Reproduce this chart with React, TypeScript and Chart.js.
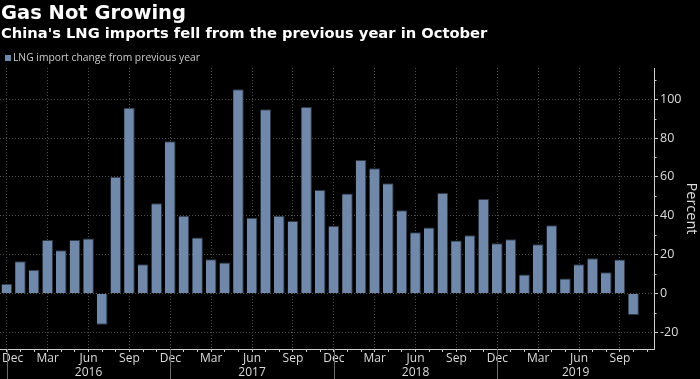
import React, { useEffect, useRef } from 'react';
import { Chart, registerables } from 'chart.js';

Chart.register(...registerables);

const categories = [
  'Dec 2015',
  'Jan 2016', 'Feb 2016', 'Mar 2016', 'Apr 2016', 'May 2016', 'Jun 2016',
  'Jul 2016', 'Aug 2016', 'Sep 2016', 'Oct 2016', 'Nov 2016', 'Dec 2016',
  'Jan 2017', 'Feb 2017', 'Mar 2017', 'Apr 2017', 'May 2017', 'Jun 2017',
  'Jul 2017', 'Aug 2017', 'Sep 2017', 'Oct 2017', 'Nov 2017', 'Dec 2017',
  'Jan 2018', 'Feb 2018', 'Mar 2018', 'Apr 2018', 'May 2018', 'Jun 2018',
  'Jul 2018', 'Aug 2018', 'Sep 2018', 'Oct 2018', 'Nov 2018', 'Dec 2018',
  'Jan 2019', 'Feb 2019', 'Mar 2019', 'Apr 2019', 'May 2019', 'Jun 2019',
  'Jul 2019', 'Aug 2019', 'Sep 2019', 'Oct 2019', 'Nov 2019',
];

const lngChange: (number | null)[] = [
  5.0,
  16.6, 12.3, 27.5, 22.3, 27.5, 28.3,
  -16.0, 60.1, 95.5, 15.1, 46.5, 78.3,
  40.0, 28.9, 17.7, 16.0, 105.1, 39.0,
  94.8, 40.0, 37.3, 95.9, 53.2, 34.9,
  51.5, 68.7, 64.4, 56.7, 42.9, 31.6,
  34.0, 51.7, 27.3, 30.0, 48.6, 25.9,
  28.0, 9.8, 25.4, 35.2, 7.7, 15.1,
  18.2, 11.0, 17.5, -11.0, null,
];

const monthTickLabels = ['Dec', 'Mar', 'Jun', 'Sep'];
const yearLabels = ['2016', '2017', '2018', '2019'];
const yTickValues = [-20, -10, 0, 10, 20, 30, 40, 50, 60, 70, 80, 90, 100, 110];

const titleText = 'Gas Not Growing';
const subtitleText = "China's LNG imports fell from the previous year in October";
const seriesLabel = 'LNG import change from previous year';
const axisTitle = 'Percent';

const BAR_COLOR = '#7089ab';
const BAR_EDGE = '#2f3a49';
const GRID = '#505050';
const AXIS = '#cfcfcf';
const TEXT = '#dcdcdc';

const monthOf = (i: number) => categories[i].split(' ')[0];

const decorPlugin = {
  id: 'decor',
  afterDraw(chart: any) {
    const ctx = chart.ctx as CanvasRenderingContext2D;
    const xs = chart.scales.x;
    const ys = chart.scales.y;
    const area = chart.chartArea;
    ctx.save();

    // Title and subtitle
    ctx.textAlign = 'left';
    ctx.textBaseline = 'alphabetic';
    ctx.fillStyle = '#ffffff';
    ctx.font = 'bold 19.5px "DejaVu Sans"';
    ctx.fillText(titleText, 1, 18.5);
    ctx.font = 'bold 14.7px "DejaVu Sans"';
    ctx.fillText(subtitleText, 1, 38);

    // Legend
    const ds = chart.data.datasets[0];
    ctx.fillStyle = ds.backgroundColor;
    ctx.fillRect(5, 55, 6, 6);
    ctx.fillStyle = '#cccccc';
    ctx.font = '10.3px "Open Sans"';
    ctx.fillText(ds.label, 13, 61);

    // Minor y tick marks
    ctx.strokeStyle = AXIS;
    ctx.lineWidth = 1;
    yTickValues.forEach((v) => {
      if (v % 20 !== 0) {
        const py = Math.round(ys.getPixelForValue(v)) + 0.5;
        ctx.beginPath();
        ctx.moveTo(area.right, py);
        ctx.lineTo(area.right + 2.5, py);
        ctx.stroke();
      }
    });

    // Month labels
    ctx.fillStyle = TEXT;
    ctx.font = '12px "Open Sans"';
    ctx.textAlign = 'center';
    categories.forEach((_, i) => {
      const m = monthOf(i);
      if (monthTickLabels.includes(m)) {
        const px = xs.getPixelForValue(i);
        const w = ctx.measureText(m).width;
        const cx = Math.max(px, 2 + w / 2);
        ctx.fillText(m, cx, 361.5);
      }
    });

    // Year separators
    const sepIdx = categories
      .map((c, i) => (c.startsWith('Dec') ? i : -1))
      .filter((i) => i >= 0);
    ctx.strokeStyle = '#6a6a6a';
    sepIdx.forEach((i) => {
      const px = Math.round(xs.getPixelForValue(i)) + 0.5;
      ctx.beginPath();
      ctx.moveTo(px, area.bottom);
      ctx.lineTo(px, chart.height);
      ctx.stroke();
    });

    // Year labels
    yearLabels.forEach((yl, k) => {
      const a = xs.getPixelForValue(sepIdx[k]);
      const b = k + 1 < sepIdx.length ? xs.getPixelForValue(sepIdx[k + 1]) : area.right;
      ctx.fillText(yl, (a + b) / 2, 376);
    });

    ctx.restore();
  },
};

export default function App() {
  const canvasRef = useRef<HTMLCanvasElement | null>(null);

  useEffect(() => {
    if (!canvasRef.current) return;
    Chart.defaults.font.family = '"Open Sans"';
    const chart = new Chart(canvasRef.current, {
      type: 'bar',
      data: {
        labels: categories,
        datasets: [
          {
            label: seriesLabel,
            data: lngChange,
            backgroundColor: BAR_COLOR,
            borderColor: BAR_EDGE,
            borderWidth: { top: 1, right: 1, bottom: 1, left: 0 },
            borderSkipped: 'start',
            categoryPercentage: 1,
            barPercentage: 0.78,
          },
        ],
      },
      options: {
        animation: false,
        responsive: false,
        devicePixelRatio: 1,
        layout: { padding: { top: 68, left: -2, right: 0, bottom: 0 } },
        plugins: {
          legend: { display: false },
          title: { display: false },
          tooltip: { enabled: false },
        },
        scales: {
          x: {
            type: 'category',
            offset: true,
            afterFit: (s: any) => {
              s.height = 30;
            },
            ticks: { display: false, autoSkip: false },
            grid: {
              offset: false,
              drawOnChartArea: true,
              drawTicks: true,
              tickLength: 3,
              color: (c: any) =>
                c.index !== undefined && monthTickLabels.includes(monthOf(c.index))
                  ? GRID
                  : 'rgba(0,0,0,0)',
              tickColor: AXIS,
              tickBorderDash: [],
            } as any,
            border: { display: true, color: AXIS, width: 1, dash: [1, 2] },
          },
          y: {
            position: 'right',
            min: -28.5,
            max: 116,
            afterFit: (s: any) => {
              s.width = 46;
            },
            afterBuildTicks: (s: any) => {
              s.ticks = yTickValues.map((v) => ({ value: v }));
            },
            ticks: {
              color: TEXT,
              padding: 2,
              font: { family: '"Open Sans"', size: 12.5 },
              callback: (v: any) => (Number(v) % 20 === 0 ? String(v) : ''),
            },
            grid: {
              drawOnChartArea: true,
              drawTicks: true,
              tickLength: 4,
              color: (c: any) =>
                c.tick && c.tick.value % 20 === 0 ? GRID : 'rgba(0,0,0,0)',
              tickColor: (c: any) =>
                c.tick && c.tick.value % 20 === 0 ? AXIS : 'rgba(0,0,0,0)',
              tickBorderDash: [],
            } as any,
            border: { display: true, color: AXIS, width: 1, dash: [1, 2] },
            title: {
              display: true,
              text: axisTitle,
              color: TEXT,
              font: { family: '"Open Sans"', size: 14.5 },
              padding: { top: 0, bottom: 0 },
            },
          },
        },
      },
      plugins: [decorPlugin],
    });
    return () => chart.destroy();
  }, []);

  return (
    <div
      style={{
        position: 'fixed',
        left: 0,
        top: 0,
        width: 700,
        height: 379,
        background: '#000',
        overflow: 'hidden',
      }}
    >
      <canvas ref={canvasRef} width={700} height={379} style={{ display: 'block' }} />
    </div>
  );
}
